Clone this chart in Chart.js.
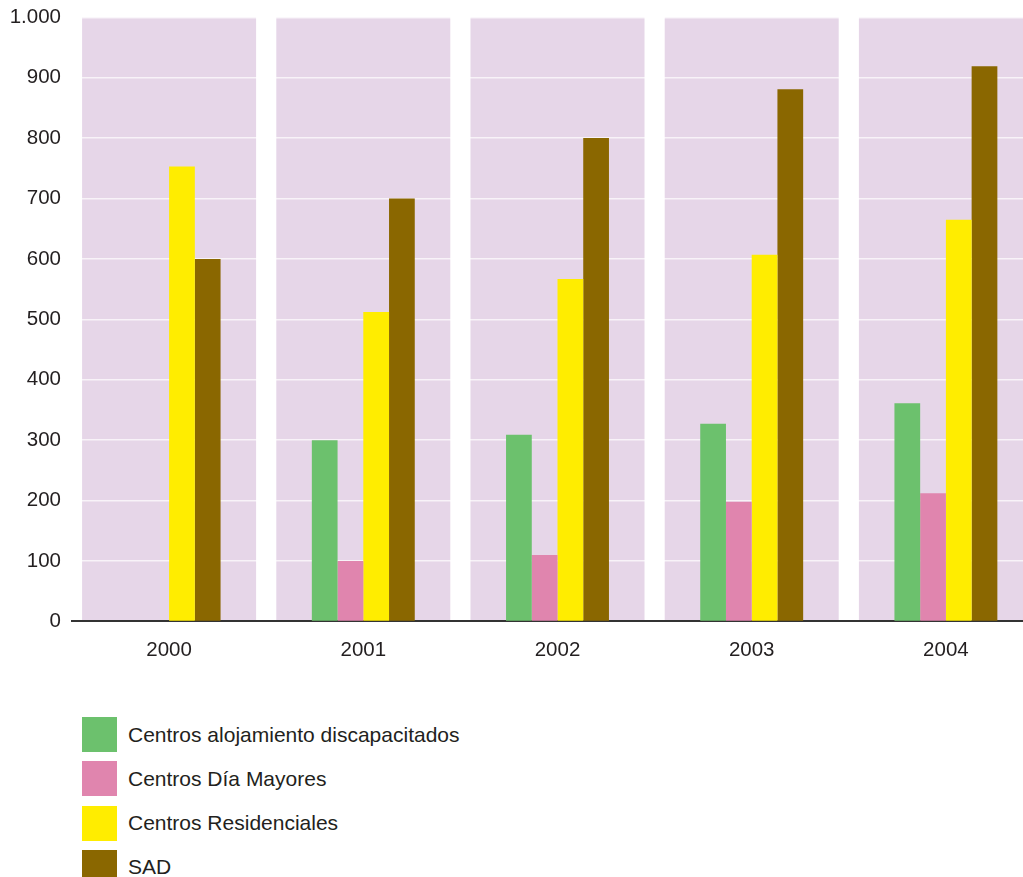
<!DOCTYPE html>
<html lang="es">
<head>
<meta charset="utf-8">
<title>Plazas por tipo de centro</title>
<script src="https://cdn.jsdelivr.net/npm/chart.js@4.4.1/dist/chart.umd.min.js"></script>
<style>
  html, body { margin: 0; padding: 0; background: #fff; overflow: hidden; }
  #wrap { position: relative; width: 1023px; height: 877px; overflow: hidden; }
  #chartBox { position: absolute; left: 0; top: -6px; width: 1060px; height: 686px; }
  #legend { position: absolute; left: 82px; top: 717px; font-family: "Liberation Sans", Arial, sans-serif; font-size: 21px; color: #231f20; }
  .legend-item { display: flex; align-items: center; height: 35px; margin-bottom: 9.3px; }
  .legend-box { width: 35px; height: 35px; margin-right: 11px; flex: none; }
</style>
</head>
<body>
<div id="wrap">
  <div id="chartBox"><canvas id="plazasChart"></canvas></div>
  <div id="legend"></div>
</div>
<script>
// ------------------------------------------------------
// Datos
// ------------------------------------------------------
const years = ['2000', '2001', '2002', '2003', '2004'];

const alojamientoDiscapacitados = [null, 300, 309, 327, 361];
const diaMayores = [null, 100, 110, 198, 212];
const residenciales = [753, 512, 567, 607, 665];
const sad = [600, 700, 800, 881, 919];

const seriesNames = ['Centros alojamiento discapacitados', 'Centros Día Mayores', 'Centros Residenciales', 'SAD'];
const seriesColors = ['#6cc16d', '#e085ae', '#ffed00', '#8a6700'];

const panelColor = '#e6d6e8';
const fontFamily = '"Liberation Sans", Arial, sans-serif';

// formato español: 1000 -> 1.000
const fmt = (v) => String(v).replace(/\B(?=(\d{3})+(?!\d))/g, '.');

// fondo lila por cada año
const panelsPlugin = {
  id: 'panels',
  beforeDraw(chart) {
    const { ctx, chartArea, scales } = chart;
    const x = scales.x;
    const step = x.getPixelForValue(1) - x.getPixelForValue(0);
    const w = step * 0.896;
    ctx.save();
    ctx.fillStyle = panelColor;
    years.forEach((_, i) => {
      const cx = x.getPixelForValue(i);
      ctx.fillRect(cx - w / 2, chartArea.top, w, chartArea.bottom - chartArea.top);
    });
    ctx.restore();
  }
};

const allSeries = [alojamientoDiscapacitados, diaMayores, residenciales, sad];

const chart = new Chart(document.getElementById('plazasChart'), {
  type: 'bar',
  data: {
    labels: years,
    datasets: allSeries.map((values, i) => ({
      label: seriesNames[i],
      data: values,
      backgroundColor: seriesColors[i],
      borderWidth: 0,
      categoryPercentage: 0.53,
      barPercentage: 1
    }))
  },
  options: {
    responsive: true,
    maintainAspectRatio: false,
    animation: false,
    layout: { padding: { top: 12, right: 17, left: 0, bottom: 0 } },
    plugins: {
      legend: { display: false },
      tooltip: { enabled: false }
    },
    scales: {
      x: {
        grid: { display: false, drawTicks: false },
        border: { display: true, color: '#333', width: 2 },
        ticks: { color: '#231f20', padding: 17, font: { family: fontFamily, size: 20.5 } }
      },
      y: {
        min: 0,
        max: 1000,
        z: 1,
        afterFit: (scale) => { scale.width = 72; },
        grid: {
          drawTicks: false,
          lineWidth: 1.5,
          color: (c) => c.tick && c.tick.value === 0 ? 'rgba(0,0,0,0)' : 'rgba(255,255,255,0.7)'
        },
        border: { display: false },
        ticks: {
          stepSize: 100,
          padding: 11,
          color: '#231f20',
          font: { family: fontFamily, size: 20.5 },
          callback: (v) => fmt(v)
        }
      }
    }
  },
  plugins: [panelsPlugin]
});

// leyenda vertical bajo el gráfico
const legendEl = document.getElementById('legend');
seriesNames.forEach((name, i) => {
  const item = document.createElement('div');
  item.className = 'legend-item';
  item.innerHTML = `<span class="legend-box" style="background:${seriesColors[i]}"></span><span>${name}</span>`;
  legendEl.appendChild(item);
});
</script>
</body>
</html>
